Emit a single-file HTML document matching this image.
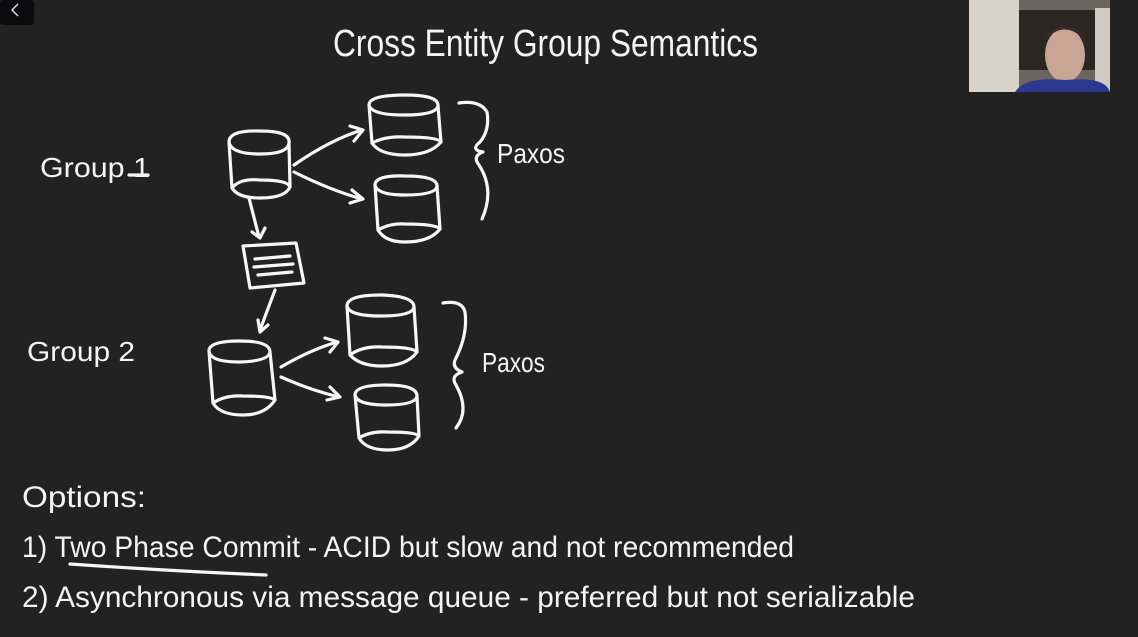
<!DOCTYPE html>
<html><head><meta charset="utf-8"><style>
html,body{margin:0;padding:0;background:#222222;width:1138px;height:637px;overflow:hidden}
svg{display:block}
text{fill:#f4f4f4;font-family:"Liberation Sans",sans-serif;font-weight:normal}
</style></head><body>
<svg width="1138" height="637" viewBox="0 0 1138 637" xmlns="http://www.w3.org/2000/svg">
<rect width="1138" height="637" fill="#222222"/>
<rect x="0" y="0" width="34" height="25" rx="3" fill="#0b0b0d"/>
<path d="M18 4 L12 10 L18 16" stroke="#ddd" stroke-width="1.5" fill="none"/>
<!-- webcam -->
<rect x="969" y="0" width="141" height="92" fill="#6a655e"/>
<rect x="969" y="0" width="50" height="92" fill="#d8d4cc"/>
<rect x="1019" y="10" width="80" height="60" fill="#2b2622"/>
<rect x="1095" y="8" width="15" height="84" fill="#cfcac2"/>
<ellipse cx="1065" cy="55" rx="20" ry="27" fill="#c9a596"/>
<path d="M1045 40 Q1065 18 1087 42 Q1082 28 1065 26 Q1048 28 1045 40Z" fill="#3a2a22"/>
<path d="M1015 92 Q1025 76 1065 80 Q1105 76 1110 92Z" fill="#2b3a90"/>
<g stroke="#f6f6f6" stroke-width="3.2" fill="none" stroke-linecap="round" stroke-linejoin="round">
<!-- cylinders -->
<g id="c1"><path d="M229 142 Q229 130 260 131 Q291 131 289 143 Q288 154 260 154 Q231 154 229 142 Z M229 142 L232 188 M289 143 L290 186 M232 188 Q240 178 260 180 Q288 180 290 187 Q285 198 260 198 Q238 198 232 188"/></g>
<path d="M369 105 Q369 95 405 95 Q439 95 438 106 Q436 115 405 115 Q371 115 369 105 Z M369 105 L372 143 M438 106 L441 142 M372 143 Q385 136 405 137 Q438 137 441 142 Q430 155 405 155 Q380 155 372 143"/>
<path d="M375 185 Q375 175 405 176 Q437 176 437 186 Q436 195 405 195 Q377 195 375 185 Z M375 185 L378 230 M437 186 L440 229 M378 230 Q390 223 405 224 Q436 224 440 229 Q430 242 405 242 Q385 242 378 230"/>
<path d="M209 351 Q209 341 240 341 Q270 341 270 352 Q269 361 240 362 Q210 362 209 351 Z M209 351 L213 403 M270 352 L275 400 M213 403 Q225 395 243 396 Q270 396 275 400 Q265 415 243 415 Q220 415 213 403"/>
<path d="M347 306 Q347 295 381 295 Q414 296 414 307 Q413 316 381 316 Q349 316 347 306 Z M347 306 L350 355 M414 307 L417 352 M350 355 Q362 346 382 347 Q413 347 417 352 Q407 366 382 366 Q360 366 350 355"/>
<path d="M355 395 Q355 385 386 385 Q417 385 417 396 Q416 405 386 405 Q357 405 355 395 Z M355 395 L359 438 M417 396 L419 436 M359 438 Q370 431 388 432 Q416 432 419 436 Q410 450 388 450 Q366 450 359 438"/>
<!-- arrows -->
<path d="M294 165 Q330 140 362 130 M350 126 L363 130 L354 141"/>
<path d="M294 172 Q330 190 362 199 M352 190 L363 199 L350 203"/>
<path d="M281 367 Q310 350 337 342 M325 338 L338 342 L330 352"/>
<path d="M281 377 Q310 390 339 397 M330 387 L340 397 L327 400"/>
<path d="M249 198 L259 237 M252 232 L260 238 L265 228"/>
<path d="M275 290 L260 330 M258 320 L260 332 L268 325"/>
<!-- note -->
<path d="M243 246 L296 243 L304 283 L250 288 Z M255 259 L290 256 M254 267 L293 264 M258 275 L292 272"/>
<!-- braces -->
<path d="M459 103 Q480 100 487 112 Q490 130 480 142 Q470 150 483 152 Q472 156 479 165 Q495 190 482 219"/>
<path d="M443 303 Q462 300 465 312 Q468 335 455 360 Q452 368 462 372 Q450 376 456 385 Q470 410 456 428"/>
<!-- underline -->
<path d="M70 564 Q170 571 266 575"/>
<path d="M129 175 L148 175"/>
</g>
<g style="font-size:38px"><text x="333" y="56" textLength="425" lengthAdjust="spacingAndGlyphs">Cross Entity Group Semantics</text></g>
<g style="font-size:28px">
<text x="40" y="177" textLength="110" lengthAdjust="spacingAndGlyphs">Group 1</text>
<text x="27" y="361" textLength="108" lengthAdjust="spacingAndGlyphs">Group 2</text>
<text x="497" y="163" textLength="68" lengthAdjust="spacingAndGlyphs">Paxos</text>
<text x="482" y="372" textLength="63" lengthAdjust="spacingAndGlyphs">Paxos</text>
</g>
<g style="font-size:30px">
<text x="22" y="507" textLength="124" lengthAdjust="spacingAndGlyphs">Options:</text>
<text x="22" y="557" textLength="772" lengthAdjust="spacingAndGlyphs">1) Two Phase Commit - ACID but slow and not recommended</text>
<text x="22" y="607" textLength="893" lengthAdjust="spacingAndGlyphs">2) Asynchronous via message queue - preferred but not serializable</text>
</g>
</svg>
</body></html>
